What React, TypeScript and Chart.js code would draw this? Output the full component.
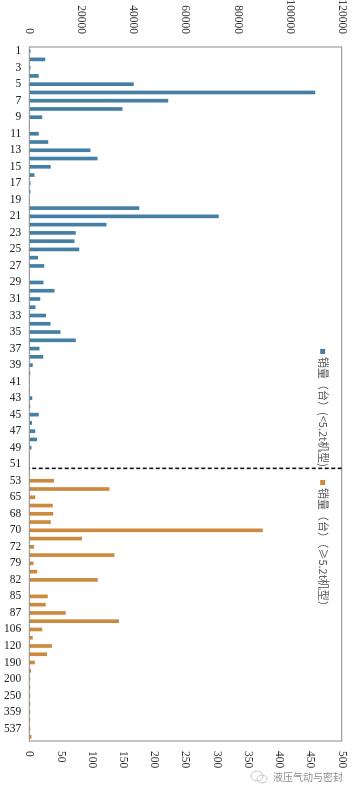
import React, { useEffect, useRef } from 'react';
import { Chart, registerables } from 'chart.js';

Chart.register(...registerables);

// ---- data ----
const smallCategories = [
  '1', '2', '3', '4', '5', '6', '7', '8', '9', '10', '11', '12', '13', '14', '15', '16', '17',
  '18', '19', '20', '21', '22', '23', '24', '25', '26', '27', '28', '29', '30', '31', '32', '33',
  '34', '35', '36', '37', '38', '39', '40', '41', '42', '43', '44', '45', '46', '47', '48', '49',
  '50', '51',
];
const largeCategories = [
  '52', '53', '60', '65', '66', '68', '69', '70', '71', '72', '75', '79', '80', '82', '83', '85',
  '86', '87', '90', '106', '110', '120', '150', '190', '195', '200', '220', '250', '300', '359',
  '400', '537', '600',
];
const smallSales = [
  300, 6000, 300, 3500, 40000, 109700, 53200, 35700, 4800, 0, 3500, 7200, 23400, 26100, 8100,
  1900, 300, 300, 0, 42100, 72600, 29500, 17700, 17200, 19100, 3200, 5600, 0, 5300, 9600, 4100,
  2300, 6300, 8000, 11900, 17700, 3800, 5200, 1200, 200, 0, 0, 1000, 200, 3500, 900, 2200, 2800,
  700, 0, 0,
];
const largeSales = [
  0, 39, 128, 9, 37, 38, 34, 373, 84, 7, 136, 6, 12, 109, 0, 29, 26, 58, 143, 20, 5, 36, 28, 8,
  2, 1, 1, 1, 1, 1, 1, 1, 3,
];
const smallTicks = [0, 20000, 40000, 60000, 80000, 100000, 120000];
const largeTicks = [0, 50, 100, 150, 200, 250, 300, 350, 400, 450, 500];
const seriesNames = ['销量（台）(<5.2t机型)', '销量（台）（≥5.2t机型）'];

const BLUE = '#457fa3';
const ORANGE = '#cc8a40';
const W = 793;
const H = 354;

const frameAndDivider = {
  id: 'frameAndDivider',
  afterDatasetsDraw(chart: any) {
    const { ctx, chartArea, scales } = chart;
    ctx.save();
    ctx.strokeStyle = '#8a8a8a';
    ctx.lineWidth = 1;
    ctx.strokeRect(chartArea.left, chartArea.top, chartArea.right - chartArea.left, chartArea.bottom - chartArea.top);
    const i = smallCategories.length - 1;
    const xd = (scales.x.getPixelForTick(i) + scales.x.getPixelForTick(i + 1)) / 2;
    ctx.strokeStyle = '#111';
    ctx.lineWidth = 1.6;
    ctx.setLineDash([4, 2.5]);
    ctx.beginPath();
    ctx.moveTo(xd, chartArea.top);
    ctx.lineTo(xd, chartArea.bottom);
    ctx.stroke();
    ctx.restore();
  },
};

const innerLegend = {
  id: 'innerLegend',
  afterDraw(chart: any) {
    const { ctx, chartArea } = chart;
    ctx.save();
    ctx.font = '11px "Noto Sans CJK SC"';
    ctx.textBaseline = 'middle';
    const y = chartArea.top + 19;
    let x = chartArea.left + 302;
    const colors = [BLUE, ORANGE];
    seriesNames.forEach((name, k) => {
      ctx.fillStyle = colors[k];
      ctx.fillRect(x, y - 2.5, 5, 5);
      x += 8;
      ctx.fillStyle = '#595959';
      ctx.fillText(name, x, y);
      x += ctx.measureText(name).width + 13;
    });
    ctx.restore();
  },
};

export default function App() {
  const ref = useRef<HTMLCanvasElement>(null);
  useEffect(() => {
    const labels = [...smallCategories, ...largeCategories];
    const blueData = [...smallSales, ...largeCategories.map(() => null)];
    const orangeData = [...smallCategories.map(() => null), ...largeSales];
    const tickFont = { family: '"Liberation Serif", "Times New Roman", serif', size: 11.5 };
    const chart = new Chart(ref.current!, {
      type: 'bar',
      data: {
        labels,
        datasets: [
          {
            label: seriesNames[0],
            data: blueData,
            backgroundColor: BLUE,
            yAxisID: 'y',
            barThickness: 3,
            grouped: false,
          } as any,
          {
            label: seriesNames[1],
            data: orangeData,
            backgroundColor: ORANGE,
            yAxisID: 'y2',
            barThickness: 3,
            grouped: false,
          } as any,
        ],
      },
      options: {
        animation: false,
        responsive: false,
        layout: { padding: { top: 12.3, left: 0, right: 0, bottom: 0 } },
        plugins: { legend: { display: false }, tooltip: { enabled: false } },
        scales: {
          x: {
            type: 'category',
            position: 'bottom',
            grid: { display: false },
            border: { display: false },
            ticks: {
              autoSkip: false,
              minRotation: 90,
              maxRotation: 90,
              padding: 0,
              font: tickFont,
              color: '#222',
              callback(this: any, v: any, i: number) {
                return i % 2 === 0 ? this.getLabelForValue(v) : '';
              },
            },
            afterFit(s: any) {
              s.height = 29.3;
            },
          },
          y: {
            position: 'left',
            min: smallTicks[0],
            max: smallTicks[smallTicks.length - 1],
            grid: { display: false },
            border: { display: false },
            afterBuildTicks(s: any) {
              s.ticks = smallTicks.map((v) => ({ value: v }));
            },
            ticks: { padding: 5, font: tickFont, color: '#333', callback: (v: any) => String(v) },
            afterFit(s: any) {
              s.width = 47;
            },
          },
          y2: {
            position: 'right',
            min: largeTicks[0],
            max: largeTicks[largeTicks.length - 1],
            grid: { display: false },
            border: { display: false },
            afterBuildTicks(s: any) {
              s.ticks = largeTicks.map((v) => ({ value: v }));
            },
            ticks: { padding: 2, font: tickFont, color: '#333', callback: (v: any) => String(v) },
            afterFit(s: any) {
              s.width = 52;
            },
          },
        },
      } as any,
      plugins: [frameAndDivider, innerLegend],
    });
    return () => chart.destroy();
  }, []);

  return (
    <div style={{ position: 'absolute', left: 0, top: 0, width: 354, height: 793, overflow: 'hidden', background: '#fff' }}>
      <div
        style={{
          position: 'absolute',
          left: 0,
          top: 0,
          width: W,
          height: H,
          transformOrigin: '0 0',
          transform: 'translateX(354px) rotate(90deg)',
        }}
      >
        <canvas ref={ref} width={W} height={H} style={{ width: W, height: H, display: 'block' }} />
      </div>
      <svg style={{ position: 'absolute', left: 250, top: 770 }} width={18} height={14}>
        <ellipse cx={7} cy={6} rx={6} ry={5} fill="none" stroke="#c8c8c8" strokeWidth={1} />
        <ellipse cx={12} cy={9} rx={5} ry={4} fill="none" stroke="#c8c8c8" strokeWidth={1} />
      </svg>
      <div
        style={{
          position: 'absolute',
          left: 273,
          top: 771,
          font: '10px "Noto Sans CJK SC"',
          lineHeight: '12px',
          color: '#8c8c8c',
          whiteSpace: 'nowrap',
        }}
      >
        液压气动与密封
      </div>
    </div>
  );
}
